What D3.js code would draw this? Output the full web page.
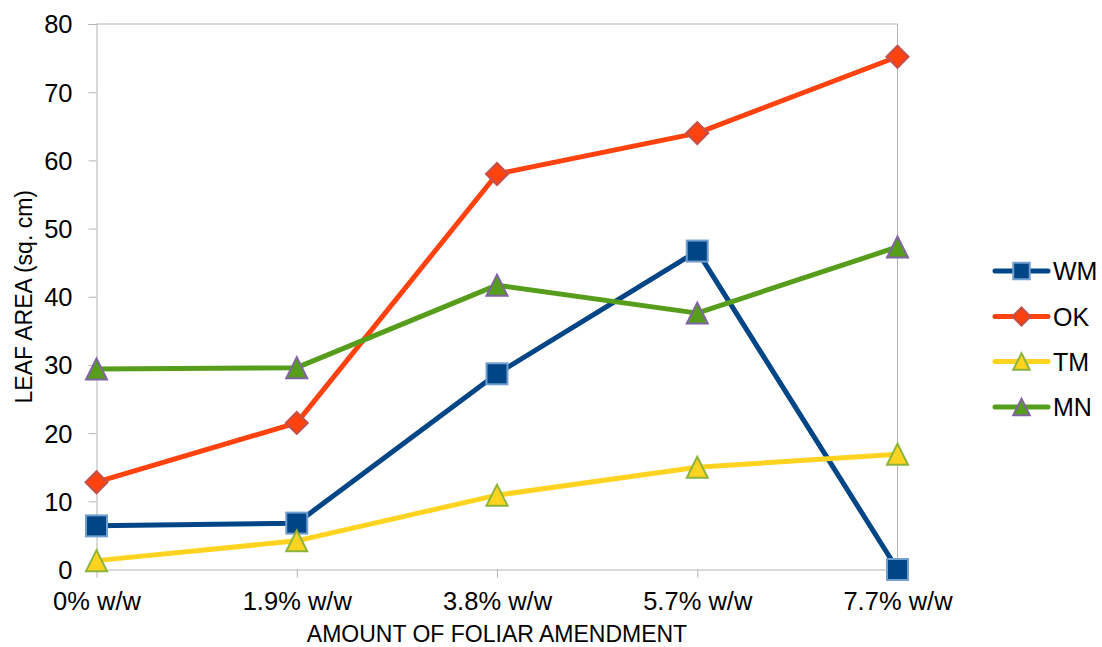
<!DOCTYPE html>
<html><head><meta charset="utf-8">
<script src="https://cdn.jsdelivr.net/npm/d3@7"></script>
<style>body{margin:0;background:#fff}svg{display:block}text{font-family:"Liberation Sans",Arial,sans-serif;fill:#000}</style>
</head><body><svg id="c" width="1102" height="647"></svg>
<script>
const categories = ["0% w/w","1.9% w/w","3.8% w/w","5.7% w/w","7.7% w/w"];
const seriesNames = ["WM","OK","TM","MN"];
const WM = [6.4, 6.8, 28.7, 46.7, 0];
const OK = [12.8, 21.5, 58.0, 64.0, 75.2];
const TM = [1.3, 4.2, 10.9, 15.0, 16.9];
const MN = [29.4, 29.6, 41.7, 37.6, 47.3];
const yTicks = [0,10,20,30,40,50,60,70,80];

const series = [
  {name:"WM", values:WM, color:"#004586", stroke:"#729fcf", shape:"square"},
  {name:"OK", values:OK, color:"#ff420e", stroke:"#c0504d", shape:"diamond"},
  {name:"TM", values:TM, color:"#ffd320", stroke:"#8cb43c", shape:"triangle"},
  {name:"MN", values:MN, color:"#579d1c", stroke:"#8064a2", shape:"triangle"}
];

const svg = d3.select("#c");
const L=96.5, R=897.5, T=24, B=569.5;
const x = d3.scalePoint().domain(categories).range([L,R]);
const y = d3.scaleLinear().domain([0,80]).range([B,T]);
const grid="#b3b3b3";

svg.append("line").attr("x1",L).attr("x2",R).attr("y1",T).attr("y2",T).attr("stroke",grid);
svg.append("line").attr("x1",R).attr("x2",R).attr("y1",T).attr("y2",B).attr("stroke",grid);

const ya = svg.append("g").attr("transform",`translate(${L},0)`)
  .call(d3.axisLeft(y).tickValues(yTicks).tickSize(8).tickPadding(16).tickFormat(d3.format("d")));
ya.select(".domain").attr("stroke",grid);
ya.selectAll(".tick line").attr("stroke",grid);
ya.selectAll("text").style("font-size","25.5px").attr("dy","0.35em");

const xa = svg.append("g").attr("transform",`translate(0,${B})`)
  .call(d3.axisBottom(x).tickSize(8).tickPadding(14).tickSizeOuter(0));
xa.select(".domain").attr("stroke",grid);
xa.selectAll(".tick line").attr("stroke",grid);
xa.selectAll("text").style("font-size","25.5px").attr("dy","0.71em");

svg.append("text").attr("x",(L+R)/2).attr("y",641.5).attr("text-anchor","middle")
  .style("font-size","23px").text("AMOUNT OF FOLIAR AMENDMENT");
svg.append("text").attr("transform",`translate(32,${(T+B)/2}) rotate(-90)`).attr("text-anchor","middle")
  .style("font-size","23px").text("LEAF AREA (sq. cm)");

function marker(g, shape, cx, cy, s, fill, stroke){
  let p;
  if(shape==="square") p = g.append("rect").attr("x",cx-s/2).attr("y",cy-s/2).attr("width",s).attr("height",s);
  else if(shape==="diamond") p = g.append("path").attr("d",`M${cx},${cy-s/2}L${cx+s/2},${cy}L${cx},${cy+s/2}L${cx-s/2},${cy}Z`);
  else p = g.append("path").attr("d",`M${cx},${cy-s/2}L${cx+s/2},${cy+s/2}L${cx-s/2},${cy+s/2}Z`);
  p.attr("fill",fill).attr("stroke",stroke).attr("stroke-width",2);
}

const line = d3.line().x((d,i)=>x(categories[i])).y(d=>y(d));
series.forEach(s=>{
  const g = svg.append("g");
  g.append("path").attr("d",line(s.values)).attr("fill","none").attr("stroke",s.color).attr("stroke-width",5).attr("stroke-linejoin","round");
  s.values.forEach((v,i)=>marker(g,s.shape,x(categories[i]),y(v),s.shape==="diamond"?22:21,s.color,s.stroke));
});

const legY = [271, 316.5, 361.5, 407];
series.forEach((s,i)=>{
  const g = svg.append("g");
  g.append("line").attr("x1",995).attr("x2",1048).attr("y1",legY[i]).attr("y2",legY[i])
    .attr("stroke",s.color).attr("stroke-width",5).attr("stroke-linecap","round");
  marker(g,s.shape,1021.5,legY[i],s.shape==="diamond"?18:16.5,s.color,s.stroke);
  g.append("text").attr("x",1053).attr("y",legY[i]).attr("dy","0.36em").style("font-size","25px").text(s.name);
});
</script></body></html>
